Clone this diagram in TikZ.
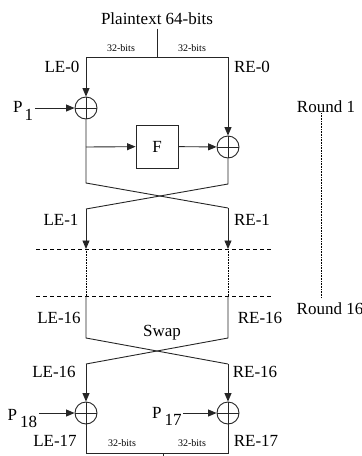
\documentclass[tikz,border=0pt]{standalone}
\usepackage{fontspec}
\setmainfont{Liberation Serif}
\usetikzlibrary{arrows.meta}

\begin{document}
\begin{tikzpicture}[x=1pt, y=-1pt,
  every node/.style={font=\fontsize{17}{20}\selectfont},
  wire/.style={line width=0.9pt, draw=black!85},
  feed/.style={wire, -{Triangle[length=8.5pt, width=7pt]}},
  xorop/.style={draw=black!85, line width=0.9pt, circle, minimum size=22pt, inner sep=0pt,
    path picture={\draw[wire] (path picture bounding box.north) -- (path picture bounding box.south)
      (path picture bounding box.west) -- (path picture bounding box.east);}},
  ffunc/.style={draw=black!85, line width=0.9pt, minimum width=42pt, minimum height=43pt},
  bits/.style={font=\fontsize{10}{12}\selectfont},
  plabel/.style={anchor=base west, inner sep=1.5pt},
  sep/.style={line width=0.9pt, dash pattern=on 4pt off 3pt},
  fade/.style={line width=0.6pt, densely dotted}]

  \useasboundingbox (0,0) rectangle (362,456);

  % Plaintext split into two 32-bit halves
  \node (plain) at (157,19) {Plaintext 64-bits};
  \coordinate (split) at (157,57);
  \coordinate (le0) at (86,57);
  \coordinate (re0) at (228,57);
  \draw[wire] (plain) -- (split);
  \draw[wire] (le0) -- (re0);
  \node[bits] (bitsl) at (121,48) {32-bits};
  \node[bits] (bitsr) at (192,48) {32-bits};
  \node (le0lbl) at (62,67) {LE-0};
  \node (re0lbl) at (252,67) {RE-0};

  % Round 1: xor with P1, then F into the right half
  \node[xorop] (xl1) at (86,108) {};
  \node[xorop] (xr1) at (228,147) {};
  \node[ffunc] (f) at (157,146.5) {F};
  \node[plabel] (p1) at (11.5,112) {P\hspace{2pt}\raisebox{-8pt}{1}};
  \coordinate (tap) at (86,147);
  \draw[feed] (le0) -- (xl1);
  \draw[feed] (p1.east |- xl1) -- (xl1);
  \draw[feed] (tap) -- (f);
  \draw[feed] (f) -- (xr1);
  \draw[feed] (re0) -- (xr1);

  % Halves cross over
  \coordinate (cl1) at (86,183);
  \coordinate (cr1) at (228,184);
  \coordinate (cl2) at (86,209);
  \coordinate (cr2) at (228,208);
  \draw[wire] (xl1) -- (cl1) -- (cr2);
  \draw[wire] (xr1) -- (cr1) -- (cl2);
  \node (le1lbl) at (61,220) {LE-1};
  \node (re1lbl) at (252,220) {RE-1};

  % Rounds 2..15 left out
  \coordinate (la1) at (86,249);
  \coordinate (ra1) at (228,249);
  \coordinate (la16) at (86,296);
  \coordinate (ra16) at (228,296);
  \coordinate (dw1) at (36,249);
  \coordinate (de1) at (273,249);
  \coordinate (dw2) at (36,296);
  \coordinate (de2) at (273,296);
  \draw[feed] (cl2) -- (la1);
  \draw[feed] (cr2) -- (ra1);
  \draw[sep] (dw1) -- (de1);
  \draw[sep] (dw2) -- (de2);
  \draw[fade] (la1) -- (la16);
  \draw[fade] (ra1) -- (ra16);

  % Round markers on the right
  \node (rnd1) at (326,107) {Round 1};
  \node (rnd16) at (330,309) {Round 16};
  \coordinate (rtop) at (321,113);
  \coordinate (rbot) at (321,298);
  \draw[fade] (rtop) -- (rbot);

  % Swap of the halves after round 16
  \coordinate (cl3) at (86,338);
  \coordinate (cr3) at (228,338);
  \coordinate (cl4) at (86,364);
  \coordinate (cr4) at (228,364);
  \draw[wire] (la16) -- (cl3) -- (cr4);
  \draw[wire] (ra16) -- (cr3) -- (cl4);
  \node (le16a) at (59,318) {LE-16};
  \node (re16a) at (260,318) {RE-16};
  \node (swap) at (162,333) {Swap};
  \node (le16b) at (54,372) {LE-16};
  \node (re16b) at (255,372) {RE-16};

  % Output whitening with P18 and P17
  \node[xorop] (xl2) at (86,413) {};
  \node[xorop] (xr2) at (228,413) {};
  \node[plabel] (p18) at (6,420) {P\hspace{3pt}\raisebox{-7pt}{18}};
  \node[plabel] (p17) at (150.5,418) {P\hspace{3pt}\raisebox{-7pt}{17}};
  \draw[feed] (cl4) -- (xl2);
  \draw[feed] (cr4) -- (xr2);
  \draw[feed] (p18.east |- xl2) -- (xl2);
  \draw[feed] (p17.east |- xr2) -- (xr2);
  \node (le17lbl) at (55,441) {LE-17};
  \node (re17lbl) at (256,441) {RE-17};

  % Halves joined again
  \coordinate (lo) at (86,453);
  \coordinate (ro) at (228,453);
  \coordinate (mo) at (163,453);
  \coordinate (out) at (163,460);
  \draw[wire] (xl2) -- (lo) -- (ro) -- (xr2);
  \draw[wire] (mo) -- (out);
  \node[bits] (bitsl2) at (122,443) {32-bits};
  \node[bits] (bitsr2) at (192,443) {32-bits};

\end{tikzpicture}
\end{document}
